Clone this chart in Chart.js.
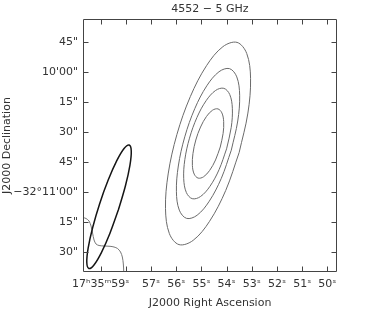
<!DOCTYPE html>
<html>
<head>
<meta charset="utf-8">
<script src="https://cdn.jsdelivr.net/npm/chart.js@4.4.1/dist/chart.umd.min.js"></script>
<style>
html,body{margin:0;padding:0;background:#fff;}
#wrap{width:382px;height:317px;position:relative;}
</style>
</head>
<body>
<div id="wrap"><canvas id="c"></canvas></div>
<script>
// Axis ticks (RA in seconds of time after 17h35m, Dec in arcsec north of -32°11'00")
const raTickValues = [59, 58, 57, 56, 55, 54, 53, 52, 51, 50];
const raTickLabels = ['17ʰ35ᵐ59ˢ', '', '57ˢ', '56ˢ', '55ˢ', '54ˢ', '53ˢ', '52ˢ', '51ˢ', '50ˢ'];
const decTickValues = [75, 60, 45, 30, 15, 0, -15, -30];
const decTickLabels = ['45"', "10'00\"", '15"', '30"', '45"', "−32°11'00\"", '15"', '30"'];

// Contours of the source: [RA s, Dec offset arcsec]
const contourLevel1 = [[53.502,19.79],[54.036,0.78],[54.678,-14.66],[55.328,-24.17],[55.889,-26.31],[56.274,-20.75],[56.426,-8.34],[56.320,9.03],[55.974,28.72],[55.440,47.72],[54.798,63.16],[54.148,72.67],[53.587,74.81],[53.202,69.25],[53.050,56.84],[53.156,39.47],[53.502,19.79]];
const contourLevel2 = [[53.815,20.92],[54.211,6.84],[54.688,-4.58],[55.172,-11.62],[55.590,-13.19],[55.879,-9.06],[55.993,0.13],[55.917,13.00],[55.661,27.59],[55.265,41.66],[54.788,53.08],[54.304,60.12],[53.886,61.69],[53.597,57.56],[53.483,48.37],[53.559,35.50],[53.815,20.92]];
const contourLevel3 = [[54.002,21.59],[54.298,11.23],[54.661,2.86],[55.036,-2.26],[55.366,-3.34],[55.600,-0.22],[55.703,6.62],[55.659,16.15],[55.474,26.91],[55.178,37.27],[54.815,45.64],[54.440,50.76],[54.110,51.84],[53.876,48.72],[53.773,41.88],[53.817,32.35],[54.002,21.59]];
const contourLevel4 = [[54.253,22.50],[54.441,16.01],[54.674,10.78],[54.916,7.60],[55.132,6.95],[55.287,8.94],[55.359,13.25],[55.336,19.25],[55.223,26.00],[55.035,32.49],[54.802,37.72],[54.560,40.90],[54.344,41.55],[54.189,39.56],[54.117,35.25],[54.140,29.25],[54.253,22.50]];
// Beam ellipse
const beamOutline = [[58.295,-8.91],[58.630,-20.59],[58.970,-30.27],[59.264,-36.46],[59.467,-38.22],[59.549,-35.29],[59.496,-28.11],[59.316,-17.77],[59.039,-5.84],[58.704,5.84],[58.364,15.52],[58.070,21.71],[57.867,23.47],[57.785,20.54],[57.838,13.36],[58.018,3.02],[58.295,-8.91]];
// Partial contour of a neighbouring source at lower left
const edgeContour = [[59.698,-12.75],[59.579,-13.25],[59.460,-14.5],[59.381,-17],[59.321,-20.5],[59.262,-24],[59.183,-26],[59.063,-26.75],[58.865,-27],[58.627,-27.15],[58.468,-27.5],[58.329,-28.25],[58.210,-30],[58.139,-32.5],[58.099,-36],[58.083,-40]];

const toXY = arr => arr.map(p => ({x: p[0], y: p[1]}));
const FONT = 'DejaVu Sans';
const TXT = '#333';
Chart.defaults.font.family = FONT;

const framePlugin = {
  id: 'frame',
  afterDatasetsDraw(chart) {
    const {ctx, chartArea: a, scales: {x, y}} = chart;
    const L = Math.round(a.left) + 0.5, R = Math.round(a.right) - 0.5;
    const T = Math.round(a.top) + 0.5, B = Math.round(a.bottom) - 0.5;
    const len = 5;
    ctx.save();
    ctx.strokeStyle = '#444';
    ctx.lineWidth = 1;
    ctx.beginPath();
    ctx.rect(L, T, R - L, B - T);
    x.ticks.forEach(t => {
      const px = Math.round(x.getPixelForValue(t.value)) + 0.5;
      ctx.moveTo(px, B); ctx.lineTo(px, B - len);
      ctx.moveTo(px, T); ctx.lineTo(px, T + len);
    });
    y.ticks.forEach(t => {
      const py = Math.round(y.getPixelForValue(t.value)) + 0.5;
      ctx.moveTo(L, py); ctx.lineTo(L + len, py);
      ctx.moveTo(R, py); ctx.lineTo(R - len, py);
    });
    ctx.stroke();
    ctx.restore();
  }
};

const common = {showLine: true, pointRadius: 0, pointHoverRadius: 0, fill: false, tension: 0.35};

new Chart(document.getElementById('c'), {
  type: 'scatter',
  data: {
    datasets: [
      Object.assign({data: toXY(contourLevel1), borderColor: '#6a6a6a', borderWidth: 1}, common),
      Object.assign({data: toXY(contourLevel2), borderColor: '#6a6a6a', borderWidth: 1}, common),
      Object.assign({data: toXY(contourLevel3), borderColor: '#6a6a6a', borderWidth: 1}, common),
      Object.assign({data: toXY(contourLevel4), borderColor: '#6a6a6a', borderWidth: 1}, common),
      Object.assign({data: toXY(beamOutline), borderColor: '#151515', borderWidth: 1.5}, common),
      Object.assign({data: toXY(edgeContour), borderColor: '#777', borderWidth: 1}, common, {tension: 0.3})
    ]
  },
  options: {
    responsive: true,
    maintainAspectRatio: false,
    animation: false,
    devicePixelRatio: 1,
    layout: {padding: {left: 0, right: 45, top: 0, bottom: 0}},
    plugins: {
      legend: {display: false},
      tooltip: {enabled: false},
      title: {
        display: true,
        text: '4552 − 5 GHz',
        fullSize: false,
        color: TXT,
        padding: {top: 3, bottom: 3},
        font: {family: FONT, size: 11, weight: 'normal'}
      }
    },
    scales: {
      x: {
        type: 'linear',
        reverse: true,
        min: 49.62,
        max: 59.70,
        grid: {display: false, drawTicks: false},
        border: {display: false},
        afterBuildTicks: s => { s.ticks = raTickValues.map(v => ({value: v})); },
        afterFit: s => { s.height = 45; },
        ticks: {
          autoSkip: false, maxRotation: 0, minRotation: 0, padding: 6,
          color: TXT, font: {family: FONT, size: 11},
          callback: v => { const i = raTickValues.indexOf(v); return i >= 0 ? raTickLabels[i] : ''; }
        },
        title: {display: true, text: 'J2000 Right Ascension', color: TXT,
          font: {family: FONT, size: 11}, padding: {top: 0, bottom: 7}}
      },
      y: {
        type: 'linear',
        min: -40,
        max: 86.4,
        grid: {display: false, drawTicks: false},
        border: {display: false},
        afterBuildTicks: s => { s.ticks = decTickValues.map(v => ({value: v})); },
        afterFit: s => { s.width = 83; },
        ticks: {
          autoSkip: false, padding: 5,
          color: TXT, font: {family: FONT, size: 11},
          callback: v => { const i = decTickValues.indexOf(v); return i >= 0 ? decTickLabels[i] : ''; }
        },
        title: {display: true, text: 'J2000 Declination', color: TXT,
          font: {family: FONT, size: 11}, padding: {top: 1, bottom: 0}}
      }
    }
  },
  plugins: [framePlugin]
});
</script>
</body>
</html>
